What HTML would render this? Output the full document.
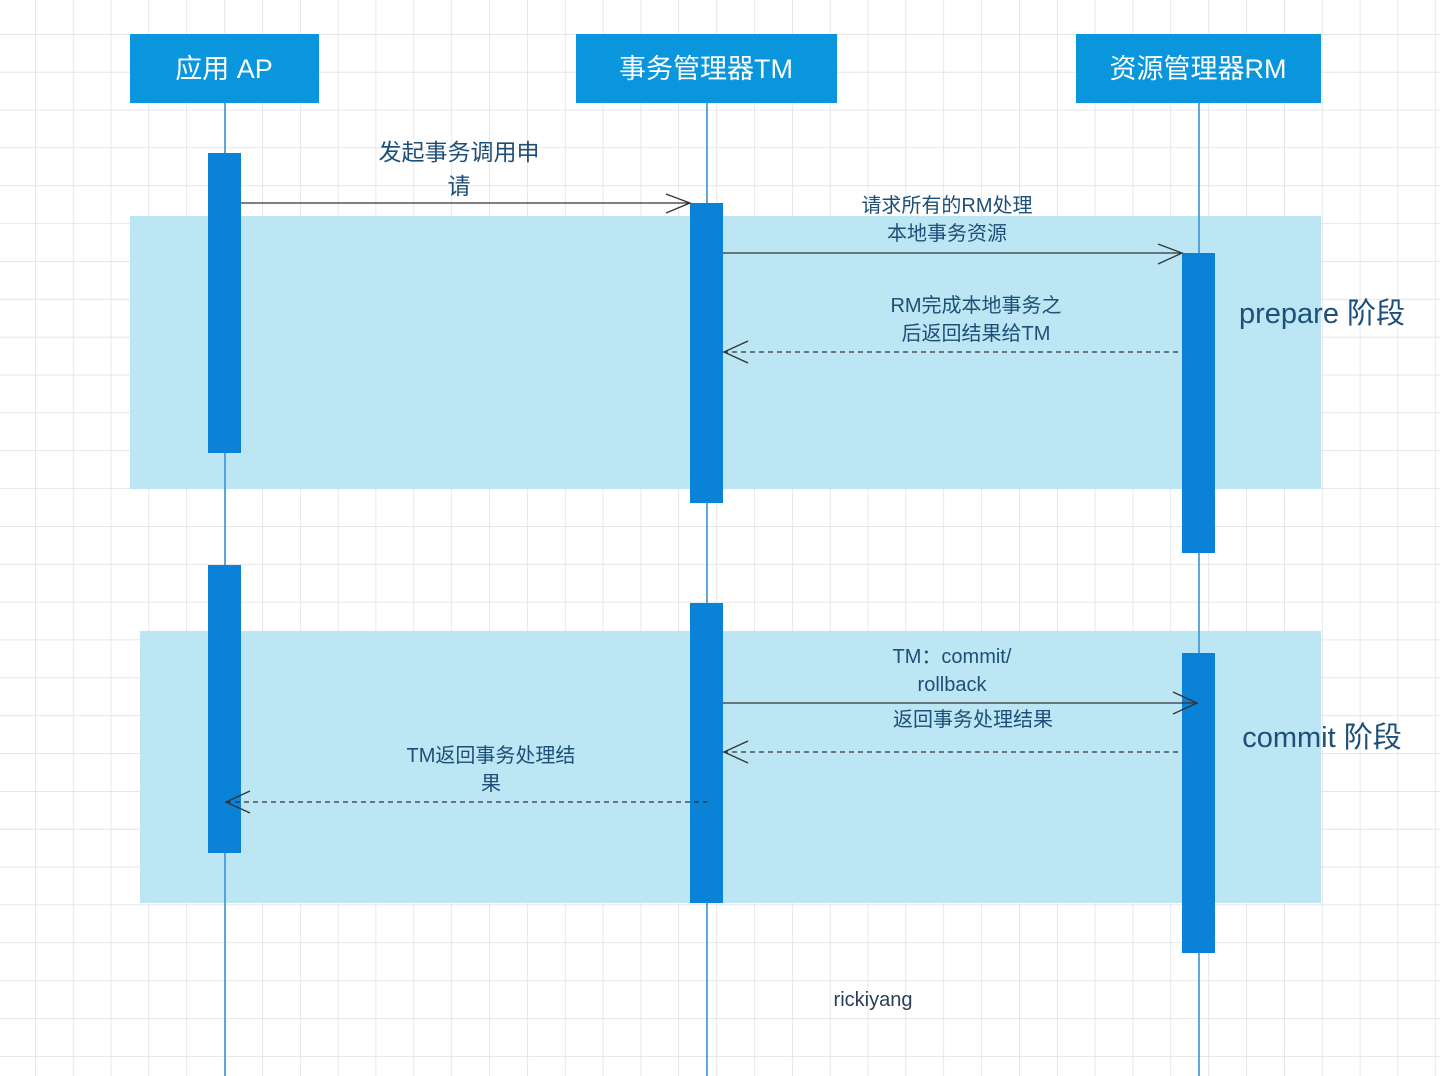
<!DOCTYPE html>
<html><head><meta charset="utf-8"><style>
html,body{margin:0;padding:0;background:#fff;}
svg{display:block;}
text{font-family:"Liberation Sans","Noto Sans CJK SC",sans-serif;}
</style></head><body>
<svg width="1440" height="1076" viewBox="0 0 1440 1076" xmlns="http://www.w3.org/2000/svg">
<defs>
<pattern id="g" x="35" y="34" width="37.85" height="37.85" patternUnits="userSpaceOnUse">
<path d="M0 0H37.85M0 0V37.85" stroke="#d8d8d8" stroke-width="1.2" fill="none"/>
</pattern>
</defs>
<rect width="1440" height="1076" fill="url(#g)"/>
<!-- bands -->
<rect x="130" y="216" width="1191" height="273" fill="#bde6f4"/>
<rect x="140" y="631" width="1181" height="272" fill="#bde6f4"/>
<!-- lifelines -->
<g stroke="#3a92d6" stroke-width="1.6">
<line x1="225" y1="103" x2="225" y2="1076"/>
<line x1="707" y1="103" x2="707" y2="1076"/>
<line x1="1199" y1="103" x2="1199" y2="1076"/>
</g>
<!-- headers -->
<g fill="#0a96dc">
<rect x="130" y="34" width="189" height="69"/>
<rect x="576" y="34" width="261" height="69"/>
<rect x="1076" y="34" width="245" height="69"/>
</g>
<g fill="#fff" font-size="27" text-anchor="middle">
<text x="224" y="78">应用 AP</text>
<text x="706" y="78">事务管理器TM</text>
<text x="1198" y="78">资源管理器RM</text>
</g>
<!-- activation bars -->
<g fill="#0a82d8">
<rect x="208" y="153" width="33" height="300"/>
<rect x="208" y="565" width="33" height="288"/>
<rect x="690" y="203" width="33" height="300"/>
<rect x="690" y="603" width="33" height="300"/>
<rect x="1182" y="253" width="33" height="300"/>
<rect x="1182" y="653" width="33" height="300"/>
</g>
<!-- arrows -->
<g stroke="#333" stroke-width="1.3" fill="none">
<line x1="241" y1="203" x2="690" y2="203"/>
<polyline points="666,194 690,203 666,213"/>
<line x1="723" y1="253" x2="1182" y2="253"/>
<polyline points="1158,244 1182,253 1158,264"/>
<line x1="723" y1="352" x2="1182" y2="352" stroke-dasharray="5,4"/>
<polyline points="748,341 724,352 748,363"/>
<line x1="723" y1="703" x2="1197" y2="703"/>
<polyline points="1173,692 1197,703 1173,714"/>
<line x1="723" y1="752" x2="1182" y2="752" stroke-dasharray="5,4"/>
<polyline points="748,741 724,752 748,763"/>
<line x1="226" y1="802" x2="707" y2="802" stroke-dasharray="5,4"/>
<polyline points="250,791 226,802 250,813"/>
</g>
<!-- labels -->
<g fill="#1d4f78" font-size="20" text-anchor="middle">
<text x="459" y="160" font-size="23">发起事务调用申</text>
<text x="459" y="194" font-size="23">请</text>
<text x="947" y="212">请求所有的RM处理</text>
<text x="947" y="240">本地事务资源</text>
<text x="976" y="312">RM完成本地事务之</text>
<text x="976" y="340">后返回结果给TM</text>
<text x="952" y="663">TM：commit/</text>
<text x="952" y="691">rollback</text>
<text x="973" y="726">返回事务处理结果</text>
<text x="491" y="762">TM返回事务处理结</text>
<text x="491" y="790">果</text>
<text x="873" y="1006" fill="#2a3f57">rickiyang</text>
<text x="1322" y="323" font-size="29">prepare 阶段</text>
<text x="1322" y="747" font-size="29">commit 阶段</text>
</g>
</svg>
</body></html>
